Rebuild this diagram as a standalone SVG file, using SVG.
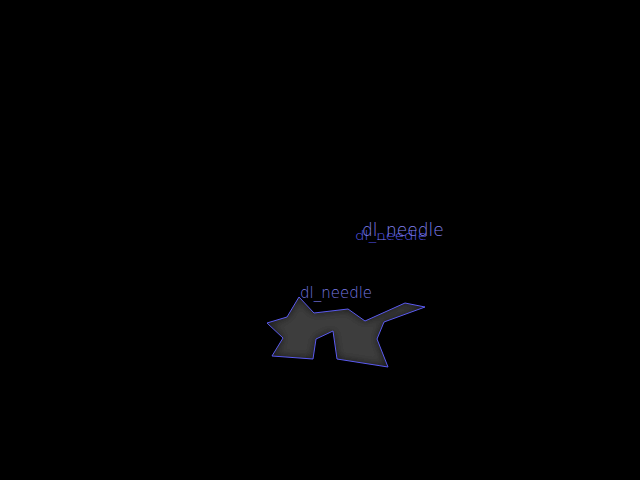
<svg xmlns="http://www.w3.org/2000/svg" width="640" height="480" viewBox="0 0 640 480">
<defs>
<style>
.lbl{font-family:"DejaVu Sans",sans-serif;font-weight:200;}
</style>
<filter id="blur" x="-20%" y="-20%" width="140%" height="140%"><feGaussianBlur stdDeviation="5"/></filter>
<clipPath id="clip"><polygon points="299,297 314,313 348,309 365,321 405,303 425,307 384,322 377,339 388,367 337,359 333,331 316,339 313,359 272,356 283,338 267,323 287,317"/></clipPath>
</defs>
<rect width="640" height="480" fill="#000"/>
<g id="shape">
<g clip-path="url(#clip)">
<rect x="260" y="290" width="170" height="80" fill="#141414"/>
<polygon points="299,297 314,313 348,309 365,321 405,303 425,307 384,322 377,339 388,367 337,359 333,331 316,339 313,359 272,356 283,338 267,323 287,317" fill="#3c3c3c" filter="url(#blur)"/>
</g>
<polygon points="299,297 314,313 348,309 365,321 405,303 425,307 384,322 377,339 388,367 337,359 333,331 316,339 313,359 272,356 283,338 267,323 287,317" fill="none" stroke="#5a5af0" stroke-width="1"/>
<text class="lbl" x="300" y="298" font-size="15" fill="#7878e0">dl_needle</text>
</g>
<g id="labels">
<text class="lbl" x="355" y="240" font-size="15" fill="#5a5af0" transform="translate(355 240) scale(1 0.85) translate(-355 -240)">dl_needle</text>
<text class="lbl" x="362" y="236" font-size="17" fill="#8080ee">dl_needle</text>
</g>
</svg>
